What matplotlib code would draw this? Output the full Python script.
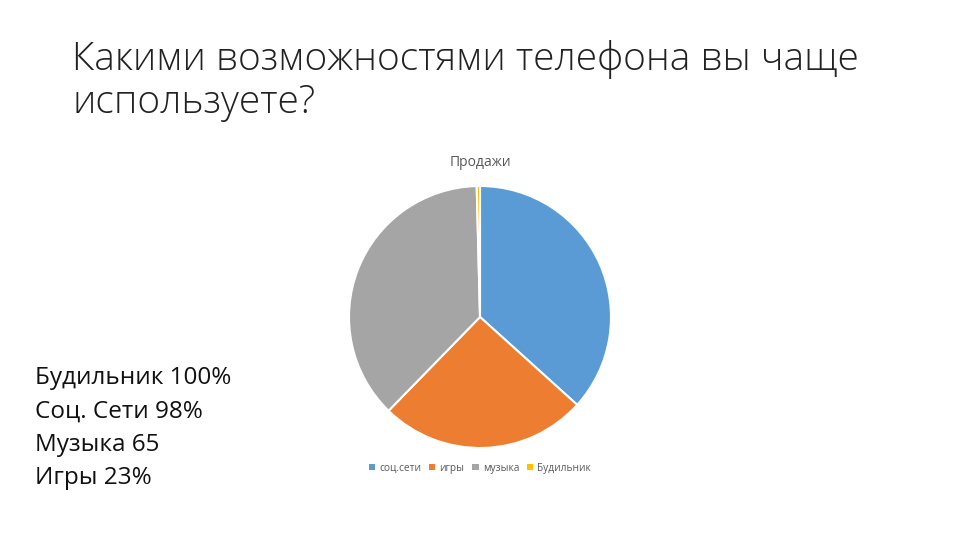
import matplotlib.pyplot as plt
from matplotlib.patches import Patch

labels = ['соц.сети', 'игры', 'музыка', 'Будильник']
values = [36.7, 25.6, 37.3, 0.4]
colors = ['#5b9bd5', '#ed7d31', '#a5a5a5', '#ffc000']

title = 'Какими возможностями телефона вы чаще\nиспользуете?'
notes = ['Будильник 100%', 'Соц. Сети 98%', 'Музыка 65', 'Игры 23%']

plt.rcParams['font.family'] = ['Open Sans', 'DejaVu Sans']

fig = plt.figure(figsize=(9.6, 5.4), dpi=100)
fig.patch.set_facecolor('white')

# slide title
fig.text(72 / 960, 1 - 40 / 540, title, fontsize=28, color='#222222',
         va='top', ha='left', linespacing=1.14, fontweight='light')

# text block on the left
for i, t in enumerate(notes):
    fig.text(35 / 960, 1 - (384 + i * 33.5) / 540, t, fontsize=17.5,
             color='#111111', va='baseline', ha='left')

# pie
ax = fig.add_axes([349 / 960, (540 - 448) / 540, 262 / 960, 262 / 540])
ax.pie(values, colors=colors, startangle=90, counterclock=False,
       wedgeprops=dict(edgecolor='white', linewidth=1.5))
ax.set_xlim(-1, 1)
ax.set_ylim(-1, 1)
ax.set_aspect('equal')
ax.axis('off')

fig.text(480 / 960, 1 - 163 / 540, 'Продажи', fontsize=10, color='#595959',
         ha='center', va='center')

handles = [Patch(facecolor=c, label=l) for c, l in zip(colors, labels)]
fig.legend(handles=handles, loc='center', bbox_to_anchor=(480 / 960, 1 - 468 / 540),
           ncol=4, frameon=False, fontsize=7.3, handlelength=0.6, handleheight=0.6,
           handletextpad=0.4, columnspacing=0.8, labelcolor='#595959')

fig.savefig('out.png', dpi=100)
